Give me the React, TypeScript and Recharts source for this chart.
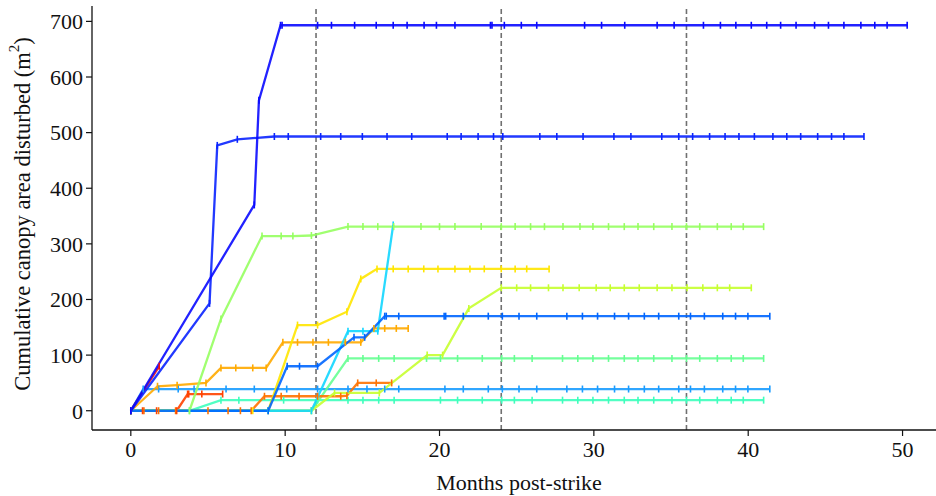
import React from 'react';
import { LineChart, Line, XAxis, YAxis, ReferenceLine } from 'recharts';

type Pt = [number, number];

const X_TICKS = [0, 10, 20, 30, 40, 50];
const Y_TICKS = [0, 100, 200, 300, 400, 500, 600, 700];
const YEAR_MARKS = [12, 24, 36];

// cumulative canopy area (m2) per tree, [month, area]
const blue690: Pt[] = [
  [0, 0], [8.0, 370], [8.3, 558], [9.7, 693], [9.8, 693], [12.1, 693], [13.0, 693], [14.5, 693],
  [15.9, 693], [17.0, 693], [17.9, 693], [19.0, 693], [19.8, 693], [21.0, 693], [23.3, 693],
  [23.4, 693], [24.2, 693], [25.3, 693], [26.3, 693], [29.4, 693], [30.5, 693], [32.0, 693],
  [34.1, 693], [35.2, 693], [37.1, 693], [38.2, 693], [39.2, 693], [40.2, 693], [41.2, 693],
  [42.1, 693], [43.1, 693], [44.3, 693], [45.2, 693], [46.2, 693], [47.3, 693], [48.2, 693],
  [49.0, 693], [50.3, 693],
];
const blue490: Pt[] = [
  [0, 0], [5.1, 193], [5.6, 477], [6.9, 488], [9.3, 493], [10.2, 493], [12.3, 493], [13.6, 493],
  [15.0, 493], [16.6, 493], [18.2, 493], [20.5, 493], [21.4, 493], [22.5, 493], [23.5, 493],
  [24.1, 493], [26.5, 493], [27.6, 493], [29.3, 493], [31.3, 493], [32.4, 493], [34.4, 493],
  [35.5, 493], [36.4, 493], [37.5, 493], [38.5, 493], [39.4, 493], [40.4, 493], [41.6, 493],
  [42.5, 493], [43.4, 493], [44.5, 493], [45.4, 493], [46.2, 493], [47.5, 493],
];
const lightGreen331: Pt[] = [
  [0, 0], [3.8, 0], [5.84, 165], [8.5, 314], [9.74, 314], [10.5, 314], [11.7, 315], [14.07, 331],
  [15.04, 331], [16.0, 331], [17.03, 331], [18.8, 331], [20.0, 331], [21.0, 331], [22.7, 331],
  [24.0, 331], [24.9, 331], [25.9, 331], [26.8, 331], [28.0, 331], [29.1, 331], [29.94, 331],
  [30.95, 331], [31.97, 331], [32.86, 331], [33.88, 331], [35.06, 331], [36.0, 331], [36.86, 331],
  [38.0, 331], [38.9, 331], [39.68, 331], [41.0, 331],
];
const cyan334: Pt[] = [
  [0, 0], [8.9, 0], [11.7, 0], [14.07, 143], [15.04, 143], [16.0, 143], [17.0, 334],
];
const yellow255: Pt[] = [
  [0, 0], [7.9, 0], [8.9, 0], [10.8, 154], [12.1, 154], [14.0, 178], [14.9, 237], [15.95, 255],
  [17.0, 255], [17.97, 255], [18.98, 255], [19.9, 255], [21.0, 255], [21.97, 255], [22.9, 255],
  [24.0, 255], [24.9, 255], [25.65, 255], [27.1, 255],
];
const yellowGreen221: Pt[] = [
  [0, 0], [11.7, 0], [13.2, 32], [16.1, 32], [19.2, 100], [20.2, 100], [21.9, 184], [24.0, 221],
  [25.0, 221], [25.9, 221], [27.06, 221], [28.0, 221], [29.05, 221], [30.15, 221], [31.06, 221],
  [31.97, 221], [32.94, 221], [34.1, 221], [35.06, 221], [36.04, 221], [37.06, 221], [38.0, 221],
  [38.8, 221], [40.2, 221],
];
const blue170: Pt[] = [
  [0, 0], [8.9, 0], [10.13, 80], [10.93, 80], [12.1, 80], [14.46, 132], [15.15, 132], [16.45, 170],
  [16.55, 170], [17.36, 170], [20.3, 170], [20.4, 170], [21.54, 170], [23.16, 170], [24.07, 170],
  [25.15, 170], [26.3, 170], [28.25, 170], [29.26, 170], [30.24, 170], [31.34, 170], [32.25, 170],
  [33.27, 170], [34.2, 170], [35.5, 170], [36.26, 170], [37.16, 170], [38.35, 170], [39.18, 170],
  [39.98, 170], [41.4, 170],
];
const amber148: Pt[] = [
  [0, 0], [1.73, 44], [3.0, 46], [4.87, 50], [5.84, 77], [6.8, 77], [7.9, 77], [8.77, 77],
  [9.85, 123], [10.8, 123], [11.8, 123], [12.8, 123], [13.9, 123], [14.9, 123], [15.75, 148],
  [16.45, 148], [17.2, 148], [17.97, 148],
];
const green94: Pt[] = [
  [0, 0], [11.7, 0], [14.07, 94], [15.04, 94], [16.06, 94], [17.06, 94], [19.16, 94], [20.06, 94],
  [21.17, 94], [22.77, 94], [24.03, 94], [24.85, 94], [26.0, 94], [27.97, 94], [28.96, 94],
  [29.94, 94], [30.95, 94], [31.97, 94], [32.86, 94], [33.88, 94], [35.06, 94], [36.0, 94],
  [36.86, 94], [38.0, 94], [38.9, 94], [39.68, 94], [41.0, 94],
];
const orange50: Pt[] = [
  [0, 0], [0.85, 0], [1.8, 0], [2.9, 0], [5.0, 0], [6.3, 0], [7.1, 0], [7.8, 0], [8.66, 26],
  [9.74, 26], [10.9, 26], [12.1, 26], [13.6, 26], [14.0, 27], [14.7, 50], [15.9, 50], [16.9, 50],
];
const skyBlue39: Pt[] = [
  [0, 0], [0.8, 39], [1.8, 39], [3.07, 39], [4.1, 39], [6.17, 39], [8.0, 39], [10.1, 39],
  [12.1, 39], [14.07, 39], [15.3, 39], [16.45, 39], [17.36, 39], [20.35, 39], [21.54, 39],
  [23.16, 39], [24.07, 39], [25.15, 39], [26.3, 39], [28.25, 39], [29.26, 39], [30.24, 39],
  [31.34, 39], [32.25, 39], [33.27, 39], [34.2, 39], [35.5, 39], [36.26, 39], [37.16, 39],
  [38.35, 39], [39.18, 39], [39.98, 39], [41.4, 39],
];
const redOrange30: Pt[] = [
  [0, 0], [0.76, 0], [1.67, 0], [2.97, 0], [3.68, 30], [3.75, 30], [4.6, 30], [5.95, 30],
];
const teal19: Pt[] = [
  [0, 0], [3.8, 0], [5.84, 19], [7.0, 19], [9.9, 19], [12.1, 19], [14.07, 19], [15.04, 19],
  [16.06, 19], [17.06, 19], [20.06, 19], [21.17, 19], [22.77, 19], [24.03, 19], [24.85, 19],
  [26.0, 19], [27.97, 19], [28.96, 19], [29.94, 19], [30.95, 19], [31.97, 19], [32.86, 19],
  [33.88, 19], [35.06, 19], [36.0, 19], [36.86, 19], [38.0, 19], [38.9, 19], [39.68, 19], [41.0, 19],
];
const red80: Pt[] = [[0, 0], [1.84, 80]];

// drawn bottom to top
const SERIES = [
  { id: 'teal19', color: '#3effbc', pts: teal19 },
  { id: 'skyBlue39', color: '#1a9cff', pts: skyBlue39 },
  { id: 'green94', color: '#66ff92', pts: green94 },
  { id: 'orange50', color: '#ff7200', pts: orange50 },
  { id: 'redOrange30', color: '#ff4200', pts: redOrange30 },
  { id: 'amber148', color: '#ffaa00', pts: amber148 },
  { id: 'yellow255', color: '#ffe600', pts: yellow255 },
  { id: 'yellowGreen221', color: '#c6ff30', pts: yellowGreen221 },
  { id: 'cyan334', color: '#12d6ff', pts: cyan334 },
  { id: 'lightGreen331', color: '#96ff60', pts: lightGreen331 },
  { id: 'blue170', color: '#0066ff', pts: blue170 },
  { id: 'red80', color: '#ee1010', pts: red80 },
  { id: 'blue490', color: '#0a24ff', pts: blue490 },
  { id: 'blue690', color: '#0a0aff', pts: blue690 },
];

const FONT = '"Liberation Serif", "Times New Roman", serif';

const tickDot = (color: string) => (props: any) => {
  const { cx, cy, index } = props;
  if (cx == null || cy == null) return <g key={index} />;
  return (
    <line key={index} x1={cx} x2={cx} y1={cy - 3.5} y2={cy + 3.5} stroke={color} strokeWidth={1.6} />
  );
};

const YLabel = ({ viewBox }: any) => {
  const cx = 22;
  const cy = viewBox.y + viewBox.height / 2 - 4;
  return (
    <text
      x={cx}
      y={cy}
      transform={`rotate(-90, ${cx}, ${cy})`}
      textAnchor="middle"
      dominantBaseline="central"
      fontFamily={FONT}
      fontSize={22.5}
      fill="#111"
    >
      <tspan>Cumulative canopy area disturbed (m</tspan>
      <tspan dy={-8} fontSize={15}>2</tspan>
      <tspan dy={8}>)</tspan>
    </text>
  );
};

export default function App() {
  return (
    <div style={{ position: 'absolute', left: 0, top: 0, width: 936, height: 496, overflow: 'hidden', background: '#fff' }}>
      <LineChart width={946} height={496} margin={{ top: 6, right: 0, left: 0, bottom: 0 }}>
        <XAxis
          xAxisId="top"
          orientation="top"
          type="number"
          domain={[-2.515, 52.815]}
          height={0}
          tick={false}
          tickLine={false}
          axisLine={{ stroke: '#111', strokeWidth: 1.3 }}
        />
        <XAxis
          dataKey="x"
          type="number"
          domain={[-2.515, 52.815]}
          ticks={X_TICKS}
          height={66}
          allowDataOverflow
          tickSize={6}
          tickMargin={5}
          tick={{ fontFamily: FONT, fontSize: 22, fill: '#111' }}
          axisLine={{ stroke: '#111', strokeWidth: 1.3 }}
          tickLine={{ stroke: '#111', strokeWidth: 1.2 }}
          label={{ value: 'Months post-strike', position: 'insideBottom', offset: 6, fontFamily: FONT, fontSize: 22, fill: '#111' }}
        />
        <YAxis
          dataKey="y"
          type="number"
          domain={[-34.65, 727.65]}
          ticks={Y_TICKS}
          width={92}
          allowDataOverflow
          tickSize={6}
          tickMargin={3}
          tick={{ fontFamily: FONT, fontSize: 22, fill: '#111' }}
          axisLine={{ stroke: '#111', strokeWidth: 1.3 }}
          tickLine={{ stroke: '#111', strokeWidth: 1.2 }}
          label={<YLabel />}
        />
        {YEAR_MARKS.map((m) => (
          <ReferenceLine key={m} x={m} stroke="#707070" strokeWidth={1.6} strokeDasharray="5 3" />
        ))}
        {SERIES.map((s) => (
          <Line
            key={s.id}
            data={s.pts.map(([x, y]) => ({ x, y }))}
            dataKey="y"
            type="linear"
            stroke={s.color}
            strokeOpacity={0.9}
            strokeWidth={2.3}
            dot={tickDot(s.color)}
            activeDot={false}
            isAnimationActive={false}
          />
        ))}
      </LineChart>
    </div>
  );
}
